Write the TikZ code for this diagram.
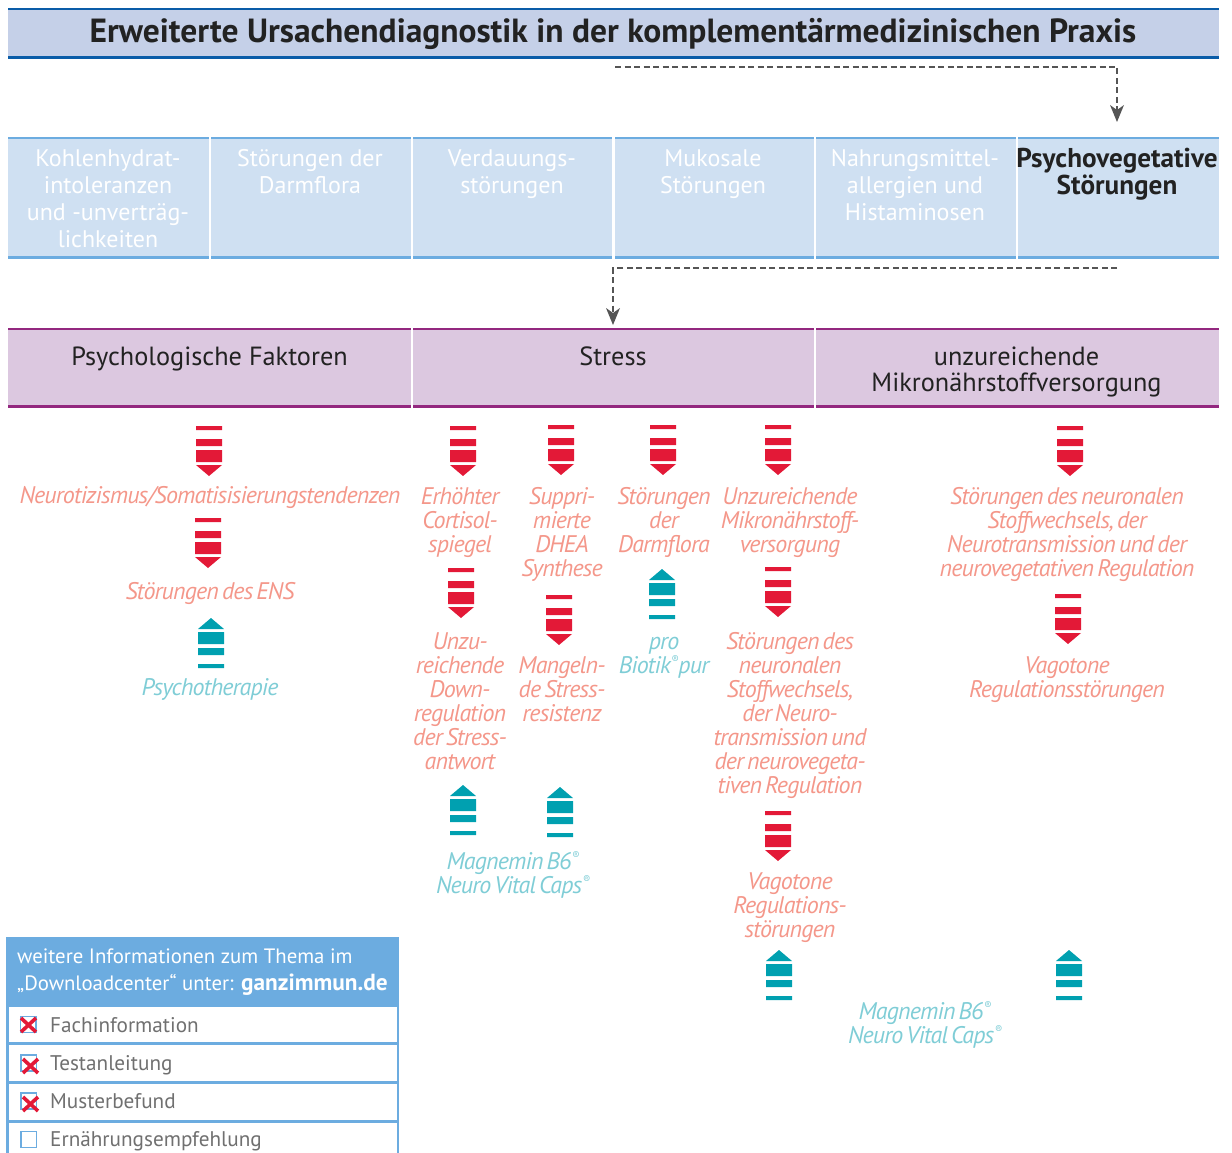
\documentclass[tikz,border=0pt]{standalone}
\usepackage{fontspec}
\setmainfont{PT Sans}
\newfontfamily\itf[LetterSpace=-3.4,WordSpace=0.55]{PT Sans}
\usetikzlibrary{arrows.meta,calc}
\definecolor{titlefill}{HTML}{C5D0E8}
\definecolor{titleline}{HTML}{0A5CA8}
\definecolor{colfill}{HTML}{CFE0F2}
\definecolor{colline}{HTML}{6CACE0}
\definecolor{purfill}{HTML}{DCC8E0}
\definecolor{purline}{HTML}{93287F}
\definecolor{redarr}{HTML}{E31937}
\definecolor{tealarr}{HTML}{00A0B0}
\definecolor{salmon}{HTML}{F4978A}
\definecolor{lteal}{HTML}{7FCDD6}
\definecolor{dashgray}{HTML}{555555}
\definecolor{rowtext}{HTML}{707070}
\definecolor{ink}{HTML}{222222}
\newcommand\FL{\rule{0pt}{26pt}}
\newcommand\reg{\raisebox{0.42em}{\fontsize{11}{11}\selectfont ®}}
\tikzset{
  lbl/.style={anchor=north,inner sep=0pt,align=center,yshift=26pt},
  faded/.style={lbl,text=white,font=\fontsize{24}{27}\selectfont},
  factor/.style={lbl,text=ink,font=\fontsize{26.3}{26}\selectfont},
  cause/.style={lbl,text=salmon,font=\fontsize{24}{24}\itf\itshape},
  remedy/.style={lbl,text=lteal,font=\fontsize{24}{24}\itf\itshape},
  dashconn/.style={draw=dashgray,line width=2.4pt,dash pattern=on 6pt off 3.5pt},
  rowlbl/.style={anchor=base west,inner sep=0pt,text=rowtext,font=\fontsize{21.2}{24}\selectfont},
  chk/.style={draw=colline,line width=1.3pt,fill=white},
  crs/.style={draw=redarr,line width=3.6pt},
}
\newcommand\RedArrow[2]{\begin{scope}[shift={(#1,#2)}]
  \fill[redarr] (0,0) rectangle (26,4) (0,13) rectangle (26,20) (0,24) rectangle (26,36);
  \fill[redarr] (0,39) -- (26,39) -- (13,50) -- cycle;
\end{scope}}
\newcommand\TealArrow[2]{\begin{scope}[shift={(#1,#2)}]
  \fill[tealarr] (13,0) -- (26,11) -- (0,11) -- cycle;
  \fill[tealarr] (0,14) rectangle (26,26) (0,30) rectangle (26,37) (0,46) rectangle (26,50);
\end{scope}}
\newcommand\Band[7]{% name, x0, y0, x1, y1, fill, line
  \fill[#6] (#2,#3) rectangle (#4,#5);
  \fill[#7] (#2,#3) rectangle (#4,#3+2);
  \fill[#7] (#2,#5-3) rectangle (#4,#5);
  \coordinate (#1) at ({(#2+#4)/2},{(#3+#5)/2});
}
\begin{document}
\begin{tikzpicture}[x=1pt,y=-1pt]
\useasboundingbox (0,0) rectangle (1232,1153);
% title
\Band{tband}{8}{8}{1219}{59}{titlefill}{titleline}
\node[anchor=base,inner sep=0pt,text=ink,font=\fontsize{33.5}{36}\bfseries] (title) at (613,43) {Erweiterte Ursachendiagnostik in der komplementärmedizinischen Praxis};
% columns
\Band{c1}{8}{137}{209}{259}{colfill}{colline}
\Band{c2}{211}{137}{411}{259}{colfill}{colline}
\Band{c3}{413}{137}{612}{259}{colfill}{colline}
\Band{c4}{615}{137}{814}{259}{colfill}{colline}
\Band{c5}{816}{137}{1016}{259}{colfill}{colline}
\Band{c6}{1018}{137}{1219}{259}{colfill}{colline}
\node[faded] (t1) at (108,166) {\FL Kohlenhydrat-\\intoleranzen\\und -unverträg-\\lichkeiten};
\node[faded] (t2) at (310,166) {\FL Störungen der\\Darmflora};
\node[faded] (t3) at (512,166) {\FL Verdauungs-\\störungen};
\node[faded] (t4) at (713,166) {\FL Mukosale\\Störungen};
\node[faded] (t5) at (915,166) {\FL Nahrungsmittel-\\allergien und\\Histaminosen};
\node[lbl,text=ink,font=\fontsize{27.2}{27}\bfseries] (t6) at (1117,167) {\FL Psychovegetative\\Störungen};
% factor bands
\Band{p1}{8}{328}{411}{408}{purfill}{purline}
\Band{p2}{413}{328}{814}{408}{purfill}{purline}
\Band{p3}{816}{328}{1219}{408}{purfill}{purline}
\node[factor] (f1) at (209.5,365) {\FL Psychologische Faktoren};
\node[factor] (f2) at (613,365) {\FL Stress};
\node[factor] (f3) at (1016.5,365) {\FL unzureichende\\Mikronährstoffversorgung};
% connectors
\coordinate (d1) at (615,67);
\coordinate (d1e) at (1117,122);
\draw[dashconn] (d1) -| ($(d1e)+(0,-12)$);
\fill[dashgray] (d1e) -- (1110,105) -- (1117,110) -- (1124,105) -- cycle;
\coordinate (d2) at (1117,268);
\coordinate (d2e) at (613,325);
\draw[dashconn] (d2) -| ($(d2e)+(0,-12)$);
\fill[dashgray] (d2e) -- (606,308) -- (613,313) -- (620,308) -- cycle;
% arrows
\RedArrow{196}{426}\RedArrow{195}{518}
\RedArrow{450}{426}\RedArrow{548}{425}\RedArrow{650}{425}\RedArrow{765}{425}\RedArrow{1057}{426}
\RedArrow{448}{568}\RedArrow{546}{595}\RedArrow{765}{567}\RedArrow{1055}{594}\RedArrow{765}{811}
\TealArrow{198}{618}\TealArrow{649}{569}\TealArrow{450}{785}\TealArrow{547}{787}\TealArrow{766}{950}\TealArrow{1056}{950}
% causes
\node[cause] (a1) at (210,503) {\FL Neurotizismus/Somatisisierungstendenzen};
\node[cause] (a2) at (210,599) {\FL Störungen des ENS};
\node[remedy] (a3) at (210,695) {\FL Psychotherapie};
\node[cause] (b1) at (460,504.5) {\FL Erhöhter\\Cortisol-\\spiegel};
\node[cause] (b2) at (562,504.5) {\FL Suppri-\\mierte\\DHEA\\Synthese};
\node[cause] (b3) at (664,504.5) {\FL Störungen\\der\\Darmflora};
\node[cause] (b4) at (790,504.5) {\FL Unzureichende\\Mikronährstoff-\\versorgung};
\node[cause] (b5) at (1067,504.5) {\FL Störungen des neuronalen\\Stoffwechsels, der\\Neurotransmission und der\\neurovegetativen Regulation};
\node[cause] (e1) at (460,649) {\FL Unzu-\\reichende\\Down-\\regulation\\der Stress-\\antwort};
\node[cause] (e2) at (562,673) {\FL Mangeln-\\de Stress-\\resistenz};
\node[remedy] (e3) at (664,649) {\FL pro\\Biotik\reg pur};
\node[cause] (e4) at (790,649) {\FL Störungen des\\neuronalen\\Stoffwechsels,\\der Neuro-\\transmission und\\der neurovegeta-\\tiven Regulation};
\node[cause] (e5) at (1067,673) {\FL Vagotone\\Regulationsstörungen};
\node[remedy] (m1) at (513,869) {\FL Magnemin B6\reg\\Neuro Vital Caps\reg};
\node[cause] (v1) at (790,889) {\FL Vagotone\\Regulations-\\störungen};
\node[remedy] (m2) at (925,1019) {\FL Magnemin B6\reg\\Neuro Vital Caps\reg};
% info box
\fill[colline] (6,937) rectangle (399,1153);
\fill[white] (8.5,1007) rectangle (396.5,1041.5);
\fill[white] (8.5,1044.5) rectangle (396.5,1080.5);
\fill[white] (8.5,1083.5) rectangle (396.5,1119.5);
\fill[white] (8.5,1122.5) rectangle (396.5,1153);
\node[anchor=base west,inner sep=0pt,text=white,font=\fontsize{20.8}{24}\selectfont] (h1) at (17,963) {weitere Informationen zum Thema im};
\node[anchor=base west,inner sep=0pt,text=white,font=\fontsize{20.8}{24}\selectfont] (h2) at (17,990) {„Downloadcenter“ unter: {\fontsize{23.3}{24}\selectfont\textbf{ganzimmun.de}}};
\node[rowlbl] (r1) at (50,1032) {Fachinformation};
\node[rowlbl] (r2) at (50,1070) {Testanleitung};
\node[rowlbl] (r3) at (50,1108) {Musterbefund};
\node[rowlbl] (r4) at (50,1146) {Ernährungsempfehlung};
\draw[chk] (20.5,1016.5) rectangle (36,1032.5);
\draw[chk] (21,1055) rectangle (36.5,1071);
\draw[chk] (21,1093) rectangle (36.5,1109);
\draw[chk] (21,1131.5) rectangle (36.5,1147.5);
\draw[crs] (21,1018) -- (36,1032) (36,1018) -- (21,1032);
\draw[crs] (23,1059) -- (38,1073) (38,1059) -- (23,1073);
\draw[crs] (23,1097) -- (38,1111) (38,1097) -- (23,1111);
\end{tikzpicture}
\end{document}
